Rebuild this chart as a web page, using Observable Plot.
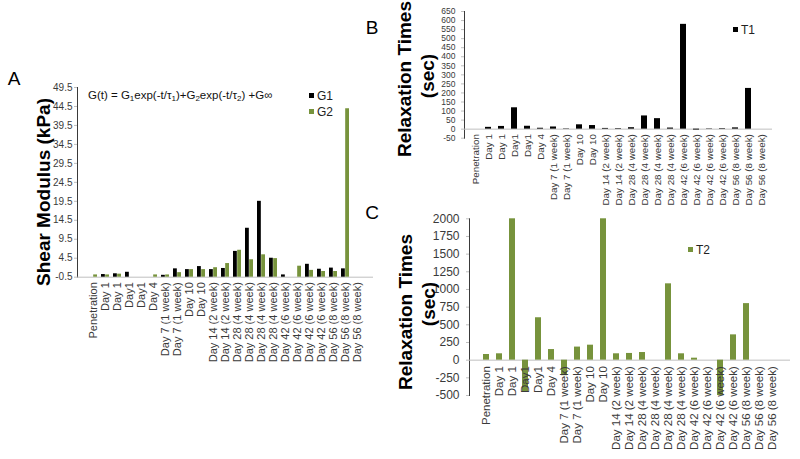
<!DOCTYPE html>
<html><head><meta charset="utf-8">
<script src="https://cdn.jsdelivr.net/npm/d3@7"></script>
<script src="https://cdn.jsdelivr.net/npm/@observablehq/plot@0.6"></script>
<style>
body{margin:0;background:#fff;}
#wrap{position:relative;width:800px;height:459px;overflow:hidden;font-family:"Liberation Sans",Arial,sans-serif;background:#fff;}
#wrap svg{position:absolute;left:0;top:0;}
#wrap svg g[aria-label*="y-axis"] path,#wrap svg g[aria-label*="y-axis"] line{stroke:#bfbfbf;}
.t{position:absolute;white-space:nowrap;color:#000;line-height:1;}
.c{transform:translate(-50%,-50%);}
.r{transform:translate(-50%,-50%) rotate(-90deg);font-weight:bold;font-size:19px;}
.key{display:inline-block;width:5px;height:5px;margin-right:3px;vertical-align:middle;position:relative;top:-1px;}
.leg{font-size:12px;color:#222;}
.f{font-size:11.5px;color:#111;}
.f sub{font-size:8px;vertical-align:-2px;}
</style></head>
<body><div id="wrap"></div>
<script>
const categories = ["Penetration","Day 1","Day 1","Day1","Day1","Day 4","Day 7 (1 week)","Day 7 (1 week)","Day 10","Day 10","Day 14 (2 week)","Day 14 (2 week)","Day 28 (4 week)","Day 28 (4 week)","Day 28 (4 week)","Day 28 (4 week)","Day 42 (6 week)","Day 42 (6 week)","Day 42 (6 week)","Day 42 (6 week)","Day 56 (8 week)","Day 56 (8 week)","Day 56 (8 week)"];
const g1 = [null,0.2,0.4,0.8,null,null,0,1.7,1.5,2.3,1.5,1.8,6.3,12.4,19.5,4.5,0.1,null,2.9,1.6,1.9,1.7,null];
const g2 = [0.1,0.1,0.3,null,null,0.1,0.1,0.7,1.5,1.5,2.0,3.1,6.6,4.1,5.4,4.4,null,2.4,1.3,1.0,1.0,43.9,null];
const t1 = [0,10,15,118,16,5,12,2,24,20,4,3,8,73,58,6,579,-5,2,3,7,225,0];
const t2 = [80,90,2000,-450,600,150,-220,185,212,2000,90,95,108,0,1080,90,28,0,-500,358,800,0,0];
const ticksA = [-0.5,4.5,9.5,14.5,19.5,24.5,29.5,34.5,39.5,44.5,49.5];
const ticksB = [-50,0,50,100,150,200,250,300,350,400,450,500,550,600,650];
const ticksC = [-500,-250,0,250,500,750,1000,1250,1500,1750,2000];

const W = 800, H = 459;
const GREEN = "#77933c", BLACK = "#000000", TXT = "#3a3a3a";
const idx = d3.range(categories.length);
const style = {background:"transparent", fontFamily:"'Liberation Sans', Arial, sans-serif", color:TXT, overflow:"visible"};
const wrap = document.getElementById("wrap");

// Panel A
const A = {l:77, r:373, t:87, b:276.7, pad:0.35};
const halfA = (A.r - A.l) / categories.length * (1 - A.pad) / 2;
wrap.appendChild(Plot.plot({
  width:W, height:H, style:{...style, fontSize:"10px"},
  marginLeft:A.l, marginRight:W-A.r, marginTop:A.t, marginBottom:H-A.b,
  x:{type:"band", domain:idx, paddingInner:A.pad, paddingOuter:A.pad/2, axis:null},
  y:{domain:[-0.5,49.5], ticks:ticksA, tickFormat:d=>d.toFixed(1), tickSize:3, tickPadding:2, label:null, line:true},
  marks:[
    Plot.ruleY([-0.5], {stroke:"#bfbfbf"}),
    Plot.barY(idx.filter(i=>g1[i]!=null), {x:i=>i, y1:()=>-0.5, y2:i=>g1[i], fill:BLACK, insetRight:halfA}),
    Plot.barY(idx.filter(i=>g2[i]!=null), {x:i=>i, y1:()=>-0.5, y2:i=>g2[i], fill:GREEN, insetLeft:halfA}),
    Plot.text(idx, {x:i=>i, y:()=>-0.5, text:i=>categories[i], rotate:-90, textAnchor:"end", dy:5, fontSize:11, fill:TXT})
  ]
}));

// Panel B
const B = {l:464, r:772, t:11, b:137.7, pad:0.57};
wrap.appendChild(Plot.plot({
  width:W, height:H, style:{...style, fontSize:"8.5px"},
  marginLeft:B.l, marginRight:W-B.r, marginTop:B.t, marginBottom:H-B.b,
  x:{type:"band", domain:idx, paddingInner:B.pad, paddingOuter:B.pad/2, axis:null},
  y:{domain:[-50,650], ticks:ticksB, tickFormat:d=>String(d), tickSize:3, tickPadding:6, label:null, line:true},
  marks:[
    Plot.ruleY([0], {stroke:"#bfbfbf"}),
    Plot.barY(idx, {x:i=>i, y:i=>t1[i], fill:BLACK}),
    Plot.text(idx, {x:i=>i, y:()=>0, text:i=>categories[i], rotate:-90, textAnchor:"end", dy:5, fontSize:9.8, fill:TXT})
  ]
}));

// Panel C
const C = {l:469, r:790, t:218.3, b:395, pad:0.52};
wrap.appendChild(Plot.plot({
  width:W, height:H, style:{...style, fontSize:"12px"},
  marginLeft:C.l, marginRight:W-C.r, marginTop:C.t, marginBottom:H-C.b,
  x:{type:"band", domain:idx, paddingInner:C.pad, paddingOuter:C.pad/2, axis:null},
  y:{domain:[-500,2000], ticks:ticksC, tickFormat:d=>String(d), tickSize:3, tickPadding:7, label:null, line:true},
  marks:[
    Plot.ruleY([0], {stroke:"#bfbfbf"}),
    Plot.barY(idx, {x:i=>i, y:i=>t2[i], fill:GREEN}),
    Plot.text(idx, {x:i=>i, y:()=>0, text:i=>categories[i], rotate:-90, textAnchor:"end", dy:6, fontSize:11.5, fill:TXT})
  ]
}));

// Text overlays
function add(html, cls, x, y, extra) {
  const d = document.createElement("div");
  d.className = "t " + cls;
  d.innerHTML = html;
  d.style.left = x + "px"; d.style.top = y + "px";
  if (extra) Object.assign(d.style, extra);
  wrap.appendChild(d);
  return d;
}
add("A", "c", 14, 78, {fontSize:"19px"});
add("B", "c", 372, 27, {fontSize:"19px"});
add("C", "c", 372, 212, {fontSize:"19px"});
add("Shear Modulus (kPa)", "r", 43, 192);
add("Relaxation Times", "r", 404, 79);
add("(sec)", "r", 427, 76);
add("Relaxation Times", "r", 405, 312);
add("(sec)", "r", 428, 304);
add("G(t) = G<sub>1</sub>exp(-t/τ<sub>1</sub>)+G<sub>2</sub>exp(-t/τ<sub>2</sub>) +G∞", "f", 88, 90);
add(`<span class="key" style="background:${BLACK}"></span>G1`, "leg", 309, 90);
add(`<span class="key" style="background:${GREEN}"></span>G2`, "leg", 309, 106);
add(`<span class="key" style="background:${BLACK}"></span>T1`, "leg", 733, 24);
add(`<span class="key" style="background:${GREEN}"></span>T2`, "leg", 688, 244);
</script>
</body></html>
